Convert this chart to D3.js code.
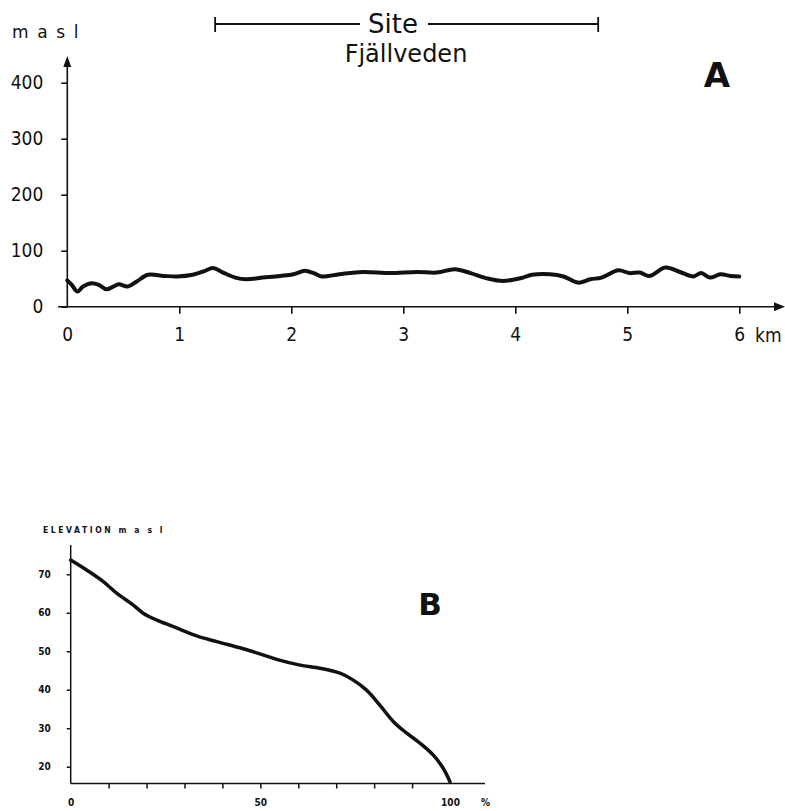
<!DOCTYPE html>
<html>
<head>
<meta charset="utf-8">
<script src="https://d3js.org/d3.v7.min.js"></script>
<style>
  body { margin: 0; background: #fff; }
  svg { display: block; background: #fff; }
  .lab { font-family: "Liberation Sans Narrow", "DejaVu Sans Condensed", sans-serif; fill: #111; }
  .head { font-family: "DejaVu Sans", sans-serif; fill: #111; }
</style>
</head>
<body>
<svg id="viz" width="785" height="811"></svg>
<script>
// profile A: distance (km) and elevation (m a s l)
const profileKm = [0, 0.04, 0.09, 0.14, 0.22, 0.28, 0.35, 0.41, 0.46, 0.54, 0.62, 0.72, 0.86, 0.98,
  1.12, 1.23, 1.30, 1.39, 1.50, 1.60, 1.75, 1.90, 2.02, 2.12, 2.20, 2.27, 2.43, 2.64, 2.88,
  3.12, 3.30, 3.46, 3.60, 3.74, 3.89, 4.07, 4.15, 4.31, 4.43, 4.56, 4.67, 4.77, 4.92, 5.02,
  5.11, 5.20, 5.34, 5.47, 5.59, 5.66, 5.74, 5.83, 5.92, 6.0];
const profileElev = [47, 39, 27, 36, 42, 39, 31, 36, 40, 36, 45, 57, 55, 54,
  57, 64, 69, 61, 52, 49, 52, 55, 58, 64, 60, 54, 58, 62, 60,
  62, 61, 67, 60, 51, 46, 52, 57, 58, 54, 43, 49, 52, 65, 60,
  61, 55, 70, 62, 54, 60, 52, 58, 55, 54];
const kmTicks = [0, 1, 2, 3, 4, 5, 6];
const elevTicksA = [0, 100, 200, 300, 400];
const siteKm = [1.32, 4.74];

// hypsometric curve B: area (%) and elevation (m a s l)
const areaPct = [0, 4.2, 8.6, 12.1, 16.5, 19.1, 22.7, 27.1, 33.2, 38.5, 44.6, 49.0, 54.3, 60.5,
  65.7, 71.0, 74.5, 78.0, 81.5, 85.1, 88.6, 92.1, 95.6, 98.2, 100];
const areaElev = [73.7, 71.1, 68.1, 65.1, 62.0, 59.9, 58.1, 56.4, 54.0, 52.5, 50.9, 49.6, 47.9, 46.4,
  45.6, 44.3, 42.5, 39.9, 36.0, 31.7, 28.7, 26.1, 23.0, 19.6, 16.1];
const pctTicks = [0, 10, 20, 30, 40, 50, 60, 70, 80, 90];
const pctLabels = [0, 50, 100];
const elevTicksB = [20, 30, 40, 50, 60, 70];

const ink = "#111";
const svg = d3.select("#viz");

// ---------- chart A ----------
var xA = d3.scaleLinear().domain([0, 6]).range([67.3, 739.3]);
var yA = d3.scaleLinear().domain([0, 400]).range([306.7, 82.7]);

// axis lines with arrows
svg.append("line").attr("x1", 58).attr("x2", 778).attr("y1", yA(0)).attr("y2", yA(0))
  .attr("stroke", ink).attr("stroke-width", 1.6);
svg.append("path").attr("d", "M785," + yA(0) + "L774," + (yA(0) - 4.5) + "L774," + (yA(0) + 4.5) + "Z")
  .attr("fill", ink);
svg.append("line").attr("x1", xA(0)).attr("x2", xA(0)).attr("y1", yA(0) + 1).attr("y2", 64)
  .attr("stroke", ink).attr("stroke-width", 1.6);
svg.append("path").attr("d", "M" + xA(0) + ",56L" + (xA(0) - 4) + ",67L" + (xA(0) + 4) + ",67Z")
  .attr("fill", ink);

var gxA = svg.append("g").attr("transform", "translate(0," + yA(0) + ")")
  .call(d3.axisBottom(xA).tickValues(kmTicks).tickSize(7).tickPadding(14).tickFormat(d3.format("d")));
var gyA = svg.append("g").attr("transform", "translate(" + xA(0) + ",0)")
  .call(d3.axisLeft(yA).tickValues(elevTicksA).tickSize(6).tickPadding(18));
[gxA, gyA].forEach(function (g) {
  g.select(".domain").remove();
  g.selectAll(".tick line").attr("stroke", ink).attr("stroke-width", 1.6);
  g.selectAll(".tick text").attr("class", "lab").style("font-size", "19px").attr("fill", ink);
});
gxA.selectAll(".tick").filter(function (d) { return d === 0; }).select("line").remove();

svg.append("text").attr("class", "lab").attr("x", 755).attr("y", 342)
  .style("font-size", "19px").text("km");
svg.append("text").attr("class", "head").attr("x", 12).attr("y", 38)
  .style("font-size", "17px").style("letter-spacing", "1.6px").text("m a s l");

// site bracket
var s0 = xA(siteKm[0]), s1 = xA(siteKm[1]);
svg.append("line").attr("x1", s0).attr("x2", 360).attr("y1", 24).attr("y2", 24)
  .attr("stroke", ink).attr("stroke-width", 1.8);
svg.append("line").attr("x1", 428).attr("x2", s1).attr("y1", 24).attr("y2", 24)
  .attr("stroke", ink).attr("stroke-width", 1.8);
[s0, s1].forEach(function (sx) {
  svg.append("line").attr("x1", sx).attr("x2", sx).attr("y1", 17).attr("y2", 32)
    .attr("stroke", ink).attr("stroke-width", 1.8);
});
svg.append("text").attr("class", "head").attr("x", 393).attr("y", 33)
  .attr("text-anchor", "middle").style("font-size", "26px").text("Site");
svg.append("text").attr("class", "head").attr("x", 406).attr("y", 62)
  .attr("text-anchor", "middle").style("font-size", "24px").text("Fjällveden");
svg.append("text").attr("class", "head").attr("x", 717).attr("y", 87)
  .attr("text-anchor", "middle").style("font-size", "34px").style("font-weight", "bold").text("A");

var lineA = d3.line()
  .x(function (d, i) { return xA(profileKm[i]); })
  .y(function (d) { return yA(d); })
  .curve(d3.curveCatmullRom.alpha(0.5));
svg.append("path").datum(profileElev).attr("d", lineA)
  .attr("fill", "none").attr("stroke", ink).attr("stroke-width", 4)
  .attr("stroke-linejoin", "round").attr("stroke-linecap", "round");

// ---------- chart B ----------
var xB = d3.scaleLinear().domain([0, 100]).range([70.7, 450]);
var yB = d3.scaleLinear().domain([20, 70]).range([766.7, 574.3]);
var baseB = 783.5;

svg.append("line").attr("x1", xB(0)).attr("x2", 485).attr("y1", baseB).attr("y2", baseB)
  .attr("stroke", ink).attr("stroke-width", 1.5);
svg.append("line").attr("x1", xB(0)).attr("x2", xB(0)).attr("y1", baseB).attr("y2", 545)
  .attr("stroke", ink).attr("stroke-width", 1.5);

var gxB = svg.append("g").attr("transform", "translate(0," + baseB + ")")
  .call(d3.axisBottom(xB).tickValues(pctTicks.slice(1)).tickSize(5).tickFormat(""));
var gxBl = svg.append("g").attr("transform", "translate(0," + baseB + ")")
  .call(d3.axisBottom(xB).tickValues(pctLabels).tickSize(0).tickPadding(15));
var gyB = svg.append("g").attr("transform", "translate(" + xB(0) + ",0)")
  .call(d3.axisLeft(yB).tickValues(elevTicksB).tickSize(4).tickPadding(16));
[gxB, gxBl, gyB].forEach(function (g) {
  g.select(".domain").remove();
  g.selectAll(".tick line").attr("stroke", ink).attr("stroke-width", 1.5);
  g.selectAll(".tick text").attr("class", "lab").style("font-size", "10px")
    .style("font-weight", "bold").attr("fill", ink);
});

svg.append("text").attr("class", "lab").attr("x", 481).attr("y", 806)
  .style("font-size", "10px").style("font-weight", "bold").text("%");
svg.append("text").attr("class", "lab").attr("x", 43).attr("y", 533)
  .style("font-size", "8.5px").style("font-weight", "bold").style("letter-spacing", "2.6px")
  .text("ELEVATION  m a s l");
svg.append("text").attr("class", "head").attr("x", 430).attr("y", 615)
  .attr("text-anchor", "middle").style("font-size", "31px").style("font-weight", "bold").text("B");

var lineB = d3.line()
  .x(function (d, i) { return xB(areaPct[i]); })
  .y(function (d) { return yB(d); })
  .curve(d3.curveCatmullRom.alpha(0.5));
svg.append("path").datum(areaElev).attr("d", lineB)
  .attr("fill", "none").attr("stroke", ink).attr("stroke-width", 3.5)
  .attr("stroke-linejoin", "round").attr("stroke-linecap", "round");
</script>
</body>
</html>
